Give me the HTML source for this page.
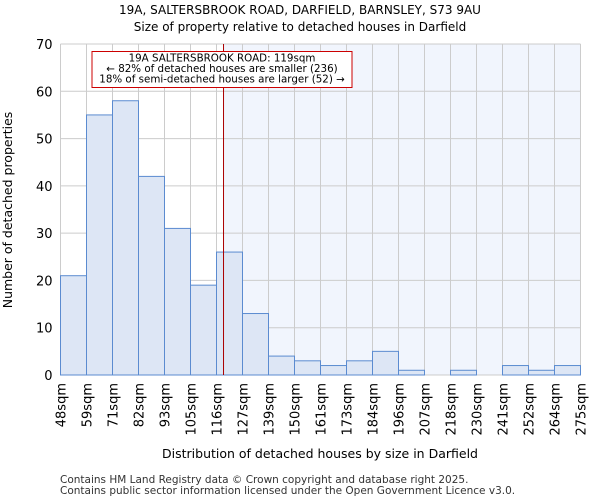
<!DOCTYPE html>
<html><head><meta charset="utf-8"><style>
body{margin:0;background:#fff;font-family:"DejaVu Sans","Liberation Sans",sans-serif}
</style></head><body>
<svg id="chart" width="600" height="500" xmlns="http://www.w3.org/2000/svg" font-family="DejaVu Sans, Liberation Sans, sans-serif">
<text x="300" y="14" text-anchor="middle" font-size="12">19A, SALTERSBROOK ROAD, DARFIELD, BARNSLEY, S73 9AU</text>
<text x="300" y="31" text-anchor="middle" font-size="12">Size of property relative to detached houses in Darfield</text>
<g id="plot"></g>
<text x="320" y="458" text-anchor="middle" font-size="12.5">Distribution of detached houses by size in Darfield</text>
<text transform="translate(12,210) rotate(-90)" text-anchor="middle" font-size="12.5">Number of detached properties</text>
<text x="60" y="483" font-size="10.5" fill="#333">Contains HM Land Registry data © Crown copyright and database right 2025.</text>
<text x="60" y="494" font-size="10.5" fill="#333">Contains public sector information licensed under the Open Government Licence v3.0.</text>
</svg>
<script>
const tickLabels=["48sqm","59sqm","71sqm","82sqm","93sqm","105sqm","116sqm","127sqm","139sqm","150sqm","161sqm","173sqm","184sqm","196sqm","207sqm","218sqm","230sqm","241sqm","252sqm","264sqm","275sqm"];
const counts=[21,55,58,42,31,19,26,13,4,3,2,3,5,1,0,1,0,2,1,2];
const yTicks=[0,10,20,30,40,50,60,70];
const markerBin=6.27;
const NS="http://www.w3.org/2000/svg";
const X0=60.5,X1=580.5,Y0=375,Y1=44,YMAX=70;
const bw=(X1-X0)/counts.length;
const xs=i=>X0+i*bw;
const ys=v=>Y0-(v/YMAX)*(Y0-Y1);
const g=document.getElementById('plot');
function mk(t,a){const e=document.createElementNS(NS,t);for(const k in a)e.setAttribute(k,a[k]);g.appendChild(e);return e;}
const mx=xs(markerBin);
const shade=mk('rect',{x:mx,y:Y1,width:X1-mx,height:Y0-Y1,fill:'#f1f5fd'});


yTicks.forEach(t=>{
 const l=mk('line',{x1:X0,x2:X1,y1:ys(t),y2:ys(t),stroke:'#cccccc','stroke-width':1});
 
 
 const tx=mk('text',{x:X0-8,y:ys(t)+5,'text-anchor':'end','font-size':'13'});
 tx.textContent=t;
 
 
});
tickLabels.forEach((s,i)=>{
 const l=mk('line',{x1:xs(i),x2:xs(i),y1:Y1,y2:Y0,stroke:'#cccccc','stroke-width':1});
 
 
 const tx=mk('text',{transform:`translate(${xs(i)+5},${Y0+8}) rotate(-90)`,'text-anchor':'end','font-size':'13'});
 tx.textContent=s;
 
 
});
counts.forEach((c,i)=>{
 if(c<=0)return;
 const r=mk('rect',{x:xs(i),y:ys(c),width:bw,height:Y0-ys(c),fill:'#dde6f5',stroke:'#5b8bd0','stroke-width':1});
 
 
});
const ml=mk('line',{x1:mx,x2:mx,y1:Y1,y2:Y0,stroke:'#aa0000','stroke-width':1});


const box=mk('rect',{x:92,y:51.5,width:260,height:36,fill:'#fff',stroke:'#cc0000','stroke-width':1});


["19A SALTERSBROOK ROAD: 119sqm","← 82% of detached houses are smaller (236)","18% of semi-detached houses are larger (52) →"].forEach((s,i)=>{
 const t=mk('text',{x:222,y:61.5+i*10.5,'text-anchor':'middle','font-size':'10.3'});
 t.textContent=s;
 
 
});
</script>
</body></html>
